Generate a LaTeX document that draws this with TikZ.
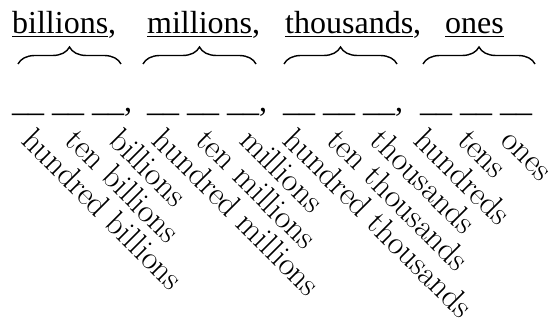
\documentclass[tikz,border=0pt]{standalone}
\usepackage{fontspec}
\setmainfont{Liberation Serif}
\newfontfamily\labfont{Latin Modern Roman}
\usetikzlibrary{decorations.pathreplacing}
\begin{document}
\begin{tikzpicture}[x=1pt,y=-1pt,
  topword/.style={anchor=base west,inner sep=0pt,font=\fontsize{32}{38}\selectfont},
  blanks/.style={anchor=base west,inner sep=0pt,font=\fontsize{32}{38}\selectfont},
  lab/.style={anchor=base west,inner sep=0pt,rotate=-45,font=\labfont\fontsize{33}{39}\selectfont},
  br/.style={decorate,decoration={brace,amplitude=17pt},line width=1.4pt}]
\useasboundingbox (0,0) rectangle (548,320);
% group headings
\node[topword] (wb) at (12,34) {\underline{billions},};
\node[topword] (wm) at (147,34) {\underline{millions},};
\node[topword] (wt) at (285,34) {\underline{thousands},};
\node[topword] (wo) at (445,34) {\underline{ones}};
% braces
\coordinate (b1l) at (18,64);  \coordinate (b1r) at (121,64);
\coordinate (b2l) at (143,64); \coordinate (b2r) at (256,64);
\coordinate (b3l) at (284,64); \coordinate (b3r) at (397,64);
\coordinate (b4l) at (423,64); \coordinate (b4r) at (535,64);
\draw[br] (b1l) -- (b1r);
\draw[br] (b2l) -- (b2r);
\draw[br] (b3l) -- (b3r);
\draw[br] (b4l) -- (b4r);
% blanks
\node[blanks] (g1) at (12,112) {\_\_ \_\_ \_\_,};
\node[blanks] (g2) at (147,112) {\_\_ \_\_ \_\_,};
\node[blanks] (g3) at (283,112) {\_\_ \_\_ \_\_,};
\node[blanks] (g4) at (420,112) {\_\_ \_\_ \_\_};
% place-value labels
\node[lab] (l0) at (20,142) {hundred billions};
\node[lab] (l1) at (63.6,142) {ten billions};
\node[lab] (l2) at (107.2,142) {billions};
\node[lab] (l3) at (150.8,142) {hundred millions};
\node[lab] (l4) at (194.4,142) {ten millions};
\node[lab] (l5) at (238,142) {millions};
\node[lab] (l6) at (281.6,142) {hundred thousands};
\node[lab] (l7) at (325.2,142) {ten thousands};
\node[lab] (l8) at (368.8,142) {thousands};
\node[lab] (l9) at (412.4,142) {hundreds};
\node[lab] (l10) at (456,142) {tens};
\node[lab] (l11) at (499.6,142) {ones};
\end{tikzpicture}
\end{document}
